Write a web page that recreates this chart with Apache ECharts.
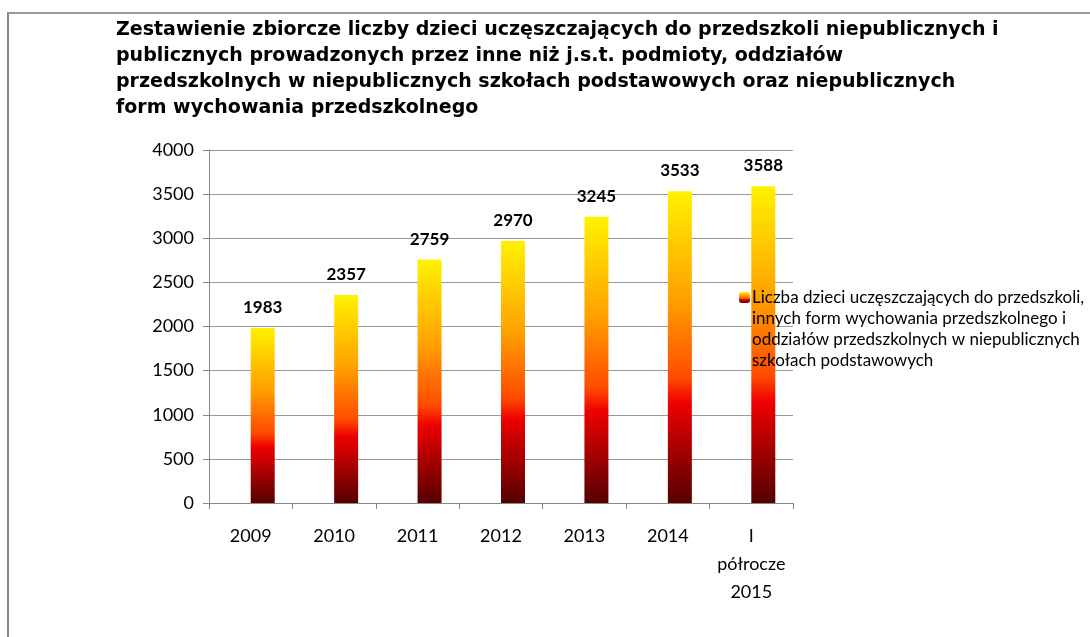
<!DOCTYPE html>
<html>
<head>
<meta charset="utf-8">
<script src="https://cdn.jsdelivr.net/npm/echarts@6/dist/echarts.min.js"></script>
<style>
html, body { margin: 0; padding: 0; background: #fff; }
#c1 { width: 1090px; height: 637px; }
.frame { position: absolute; left: 7px; top: 12px; width: 1090px; height: 640px; border-left: 2px solid #888; border-top: 2px solid #999; pointer-events: none; }
</style>
</head>
<body>
<div id="c1"></div>
<div class="frame"></div>
<script>
var years = ['2009', '2010', '2011', '2012', '2013', '2014', 'I\npółrocze\n2015'];
var children = [1983, 2357, 2759, 2970, 3245, 3533, 3588];
// leading blank lines keep the legend swatch level with the first text line
var seriesName = '\n\n\nLiczba dzieci uczęszczających do przedszkoli,\ninnych form wychowania przedszkolnego i\noddziałów przedszkolnych w niepublicznych\nszkołach podstawowych';
var chartTitle = 'Zestawienie zbiorcze liczby dzieci uczęszczających do przedszkoli niepublicznych i\npublicznych prowadzonych przez inne niż j.s.t. podmioty, oddziałów\nprzedszkolnych w niepublicznych szkołach podstawowych oraz niepublicznych\nform wychowania przedszkolnego';

var dom = document.getElementById("c1");
var myChart = echarts.init(dom);

var fire = new echarts.graphic.LinearGradient(0, 0, 0, 1, [
    { offset: 0, color: '#fff200' },
    { offset: 0.35, color: '#ffa000' },
    { offset: 0.6, color: '#ff4a00' },
    { offset: 0.68, color: '#ee0000' },
    { offset: 1, color: '#550000' }
]);

var option = {
    animation: false,
    title: {
        text: chartTitle,
        left: 111,
        top: 12,
        textStyle: {
            fontFamily: 'DejaVu Sans',
            fontWeight: 'bold',
            fontSize: 19,
            lineHeight: 26,
            color: '#000'
        }
    },
    legend: {
        data: [seriesName],
        orient: 'vertical',
        left: 734,
        top: 219,
        itemWidth: 11,
        itemHeight: 11,
        textStyle: {
            fontFamily: 'Lato',
            fontSize: 17,
            lineHeight: 21,
            color: '#000',
            padding: [0, 0, 0, -3]
        }
    },
    grid: {
        left: 209,
        right: 297,
        top: 150,
        bottom: 134,
        containLabel: false
    },
    xAxis: {
        type: 'category',
        data: years,
        axisLine: { lineStyle: { color: '#888' } },
        axisTick: { show: true, length: 6, lineStyle: { color: '#888' } },
        axisLabel: {
            interval: 0,
            fontFamily: 'Lato',
            fontSize: 18,
            color: '#000',
            lineHeight: 28,
            margin: 19
        }
    },
    yAxis: {
        type: 'value',
        min: 0,
        max: 4000,
        interval: 500,
        axisLine: { show: true, lineStyle: { color: '#888' } },
        axisTick: { show: true, length: 6, lineStyle: { color: '#888' } },
        splitLine: { lineStyle: { color: '#999' } },
        axisLabel: {
            fontFamily: 'Lato',
            fontSize: 18,
            color: '#000',
            margin: 15,
            formatter: function (v) { return String(v); }
        }
    },
    series: [
        {
            name: 'pusta',
            type: 'bar',
            data: [],
            barWidth: 24,
            barGap: '0%'
        },
        {
            name: seriesName,
            type: 'bar',
            data: children,
            barWidth: 24,
            barGap: '0%',
            itemStyle: { color: fire },
            label: {
                show: true,
                position: 'top',
                distance: 12,
                fontFamily: 'Lato',
                fontWeight: 'bold',
                fontSize: 17,
                color: '#000'
            }
        }
    ]
};

if (option && typeof option === "object") {
    myChart.setOption(option, true);
}
</script>
</body>
</html>
